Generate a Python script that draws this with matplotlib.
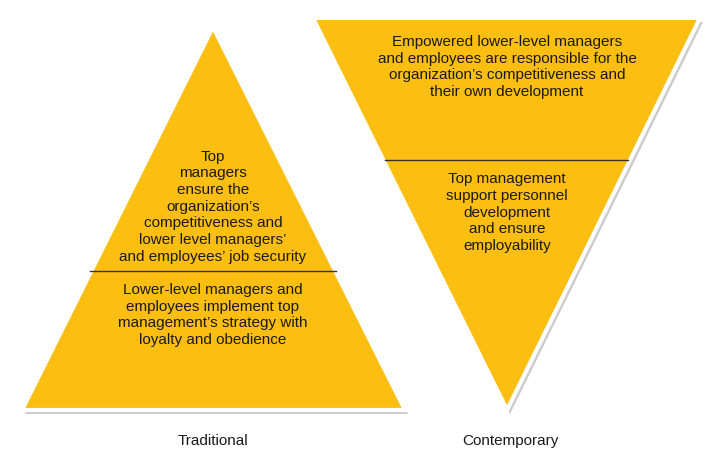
import matplotlib
matplotlib.use("Agg")
import matplotlib.pyplot as plt
from matplotlib.patches import Polygon

labels = ["Traditional", "Contemporary"]
trad_top = "Top\nmanagers\nensure the\norganization’s\ncompetitiveness and\nlower level managers’\nand employees’ job security"
trad_bottom = "Lower-level managers and\nemployees implement top\nmanagement’s strategy with\nloyalty and obedience"
cont_top = "Empowered lower-level managers\nand employees are responsible for the\norganization’s competitiveness and\ntheir own development"
cont_bottom = "Top management\nsupport personnel\ndevelopment\nand ensure\nemployability"

tri1 = [(213, 27), (22, 410), (405, 410)]
tri2 = [(313, 18), (700, 18), (507, 410)]
div1 = ([90, 336], [271, 271])
div2 = ([385, 628], [160, 160])

fig = plt.figure(figsize=(7.2, 4.51), dpi=100)
ax = fig.add_axes([0, 0, 1, 1])
ax.set_xlim(0, 720); ax.set_ylim(451, 0); ax.axis("off")
gold = "#FDBE12"
for tri in (tri1, tri2):
    sh = [(x + 3, y + 4) for x, y in tri]
    ax.add_patch(Polygon(sh, closed=True, fc="#999999", ec="none", alpha=0.5))
    ax.add_patch(Polygon(tri, closed=True, fc=gold, ec="white", lw=3, joinstyle="miter"))
for d in (div1, div2):
    ax.plot(d[0], d[1], color="#333333", lw=1)
fam = ["Liberation Sans", "DejaVu Sans"]
kw = dict(ha="center", family=fam, fontsize=11, color="#1a1a1a", linespacing=1.25)
ax.text(213, 264, trad_top, va="bottom", **kw)
ax.text(213, 283, trad_bottom, va="top", **kw)
ax.text(507, 35, cont_top, va="top", **kw)
ax.text(507, 172, cont_bottom, va="top", **kw)
ax.text(213, 441, labels[0], ha="center", va="center", family=fam, fontsize=11, color="#1a1a1a")
ax.text(510, 441, labels[1], ha="center", va="center", family=fam, fontsize=11, color="#1a1a1a")
fig.savefig("out.png", dpi=100, facecolor="white")
